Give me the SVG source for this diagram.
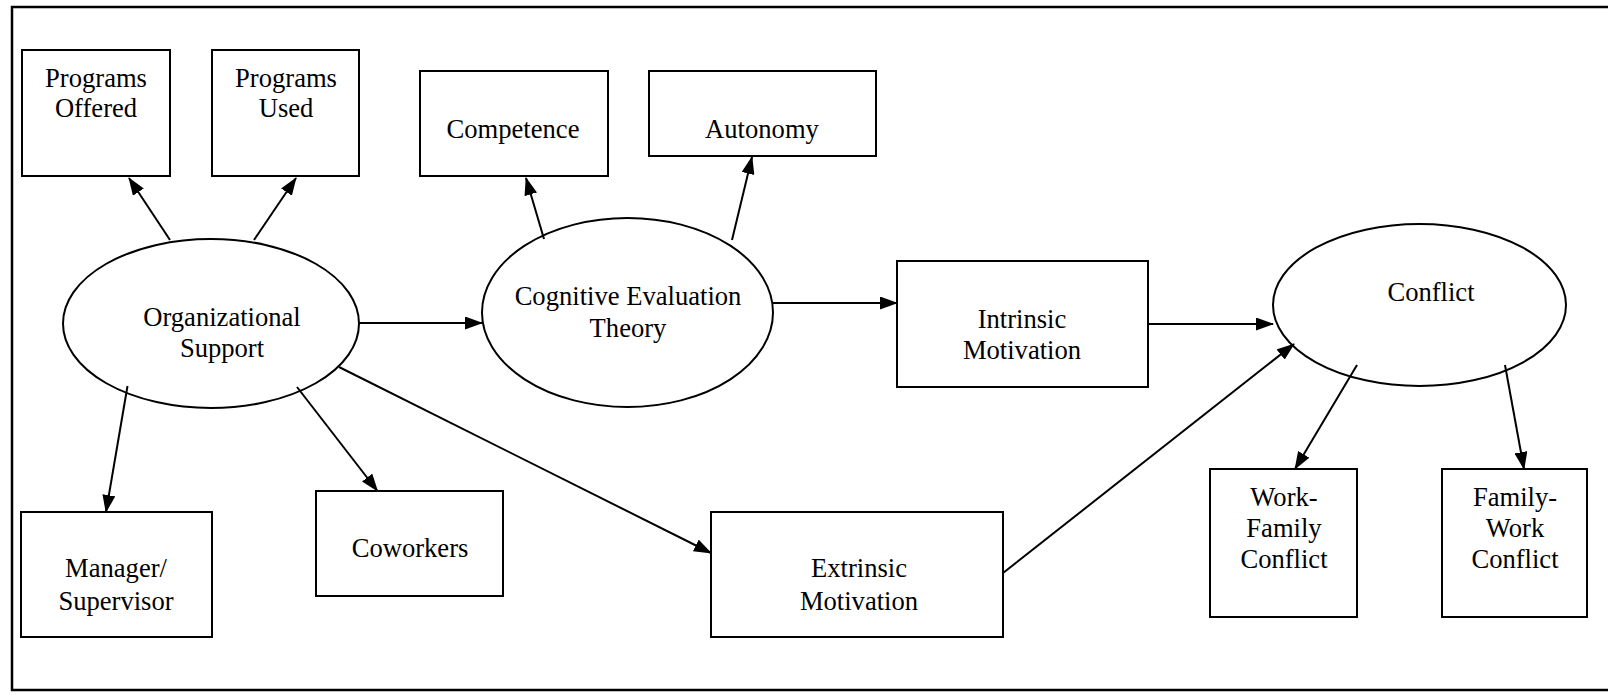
<svg xmlns="http://www.w3.org/2000/svg" width="1608" height="695" viewBox="0 0 1608 695">
<defs>
<marker id="ah" viewBox="0 0 18 13" refX="17" refY="6.5" markerWidth="18" markerHeight="13" markerUnits="userSpaceOnUse" orient="auto">
<path d="M0,0 L18,6.5 L0,13 Z" fill="#000"/>
</marker>
<style>
.b{fill:#fff;stroke:#000;stroke-width:2}
.t{font-family:"Liberation Serif","Times New Roman",serif;font-size:26.6px;fill:#000;text-anchor:middle}
.c{stroke:#000;stroke-width:2;fill:none;marker-end:url(#ah)}
</style>
</defs>
<rect x="0" y="0" width="1608" height="695" fill="#fff"/>
<rect x="12" y="7" width="1620" height="683" fill="none" stroke="#000" stroke-width="2.5"/>

<g id="programs-offered"><rect class="b" x="22" y="50" width="148" height="126"/><text class="t" x="96" y="87">Programs</text><text class="t" x="96" y="117">Offered</text></g>
<g id="programs-used"><rect class="b" x="212" y="50" width="147" height="126"/><text class="t" x="286" y="87">Programs</text><text class="t" x="286" y="117">Used</text></g>
<g id="competence"><rect class="b" x="420" y="71" width="188" height="105"/><text class="t" x="513" y="138">Competence</text></g>
<g id="autonomy"><rect class="b" x="649" y="71" width="227" height="85"/><text class="t" x="762" y="138">Autonomy</text></g>
<g id="organizational-support"><ellipse class="b" cx="211" cy="323.5" rx="148" ry="84.5"/><text class="t" x="222" y="326">Organizational</text><text class="t" x="222" y="357">Support</text></g>
<g id="cognitive-evaluation-theory"><ellipse class="b" cx="627.5" cy="312.5" rx="145.5" ry="94.5"/><text class="t" x="628" y="305">Cognitive Evaluation</text><text class="t" x="628" y="337">Theory</text></g>
<g id="intrinsic-motivation"><rect class="b" x="897" y="261" width="251" height="126"/><text class="t" x="1022" y="328">Intrinsic</text><text class="t" x="1022" y="359">Motivation</text></g>
<g id="conflict"><ellipse class="b" cx="1419.5" cy="305" rx="146.5" ry="81"/><text class="t" x="1431" y="301">Conflict</text></g>
<g id="manager-supervisor"><rect class="b" x="21" y="512" width="191" height="125"/><text class="t" x="116" y="577">Manager/</text><text class="t" x="116" y="610">Supervisor</text></g>
<g id="coworkers"><rect class="b" x="316" y="491" width="187" height="105"/><text class="t" x="410" y="557">Coworkers</text></g>
<g id="extrinsic-motivation"><rect class="b" x="711" y="512" width="292" height="125"/><text class="t" x="859" y="577">Extrinsic</text><text class="t" x="859" y="610">Motivation</text></g>
<g id="work-family-conflict"><rect class="b" x="1210" y="469" width="147" height="148"/><text class="t" x="1284" y="506">Work-</text><text class="t" x="1284" y="537">Family</text><text class="t" x="1284" y="568">Conflict</text></g>
<g id="family-work-conflict"><rect class="b" x="1442" y="469" width="145" height="148"/><text class="t" x="1515" y="506">Family-</text><text class="t" x="1515" y="537">Work</text><text class="t" x="1515" y="568">Conflict</text></g>

<g id="connectors">
<line class="c" x1="170" y1="240" x2="129" y2="178"/>
<line class="c" x1="254" y1="240" x2="296" y2="178"/>
<line class="c" x1="359" y1="323" x2="482" y2="323"/>
<line class="c" x1="544" y1="239" x2="526" y2="178"/>
<line class="c" x1="732" y1="240" x2="752" y2="157"/>
<line class="c" x1="773" y1="303" x2="897" y2="303"/>
<line class="c" x1="1148" y1="324" x2="1273" y2="324"/>
<line class="c" x1="1003" y1="573" x2="1294" y2="344"/>
<line class="c" x1="1357" y1="365" x2="1295" y2="469"/>
<line class="c" x1="1505" y1="365" x2="1524" y2="469"/>
<line class="c" x1="127.5" y1="386" x2="106" y2="512"/>
<line class="c" x1="297" y1="387" x2="377.5" y2="491"/>
<line class="c" x1="339" y1="367" x2="711" y2="553"/>
</g>
</svg>
